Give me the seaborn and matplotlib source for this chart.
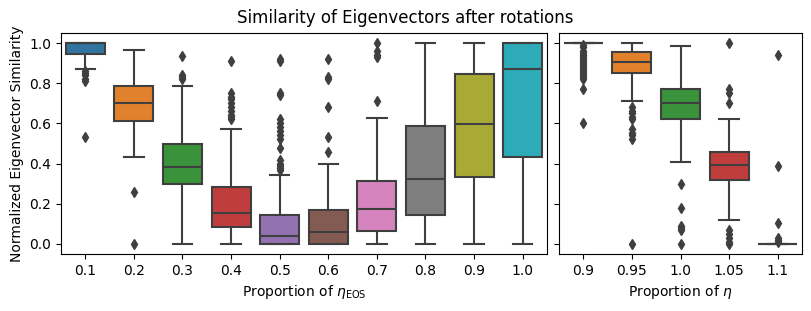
import numpy as np
import pandas as pd
import matplotlib
matplotlib.use("Agg")
from matplotlib import pyplot as plt
import seaborn as sns

# box statistics: whisker low, q1, median, q3, whisker high, fliers
eos_labels = ["0.1", "0.2", "0.3", "0.4", "0.5", "0.6", "0.7", "0.8", "0.9", "1.0"]
eos_whislo = [0.873, 0.435, 0.0, 0.0, 0.0, 0.0, 0.0, 0.0, 0.0, 0.0]
eos_q1 = [0.947, 0.614, 0.296, 0.086, 0.0, 0.0, 0.065, 0.146, 0.332, 0.435]
eos_median = [1.0, 0.704, 0.382, 0.153, 0.041, 0.058, 0.176, 0.324, 0.598, 0.873]
eos_q3 = [1.0, 0.787, 0.498, 0.282, 0.146, 0.169, 0.314, 0.585, 0.844, 1.0]
eos_whishi = [1.0, 0.963, 0.787, 0.571, 0.345, 0.40, 0.628, 1.0, 1.0, 1.0]
eos_fliers = [
    [0.86, 0.85, 0.84, 0.82, 0.81, 0.53],
    [0.26, 0.0],
    [0.937, 0.84, 0.83, 0.82],
    [0.913, 0.75, 0.73, 0.72, 0.70, 0.68, 0.66, 0.64, 0.63, 0.62],
    [0.92, 0.91, 0.75, 0.74, 0.62, 0.60, 0.58, 0.56, 0.54, 0.52, 0.48,
     0.42, 0.40, 0.39, 0.38, 0.37],
    [0.92, 0.83, 0.82, 0.68, 0.53, 0.46],
    [1.0, 0.96, 0.94, 0.93, 0.71],
    [], [], [],
]

eta_labels = ["0.9", "0.95", "1.0", "1.05", "1.1"]
eta_whislo = [1.0, 0.714, 0.41, 0.12, 0.0]
eta_q1 = [1.0, 0.849, 0.624, 0.317, 0.0]
eta_median = [1.0, 0.905, 0.704, 0.395, 0.0]
eta_q3 = [1.0, 0.953, 0.771, 0.458, 0.0]
eta_whishi = [1.0, 1.0, 0.983, 0.62, 0.0]
eta_fliers = [
    [0.99, 0.98, 0.96, 0.95, 0.94, 0.93, 0.92, 0.91, 0.90, 0.89, 0.88,
     0.87, 0.86, 0.85, 0.84, 0.83, 0.82, 0.77, 0.60],
    [0.68, 0.66, 0.65, 0.63, 0.62, 0.57, 0.55, 0.54, 0.52, 0.0],
    [0.30, 0.18, 0.09, 0.08, 0.07, 0.0],
    [1.0, 0.77, 0.75, 0.70, 0.07, 0.05, 0.03, 0.01, 0.0],
    [0.94, 0.39, 0.105, 0.03, 0.02, 0.01],
]


def _sample(lo, q1, med, q3, hi, fliers):
    # smallest sample whose quartiles / whiskers / fliers match the stats
    low = sorted(v for v in fliers if v < lo)
    high = sorted(v for v in fliers if v > hi)
    k = max(len(low), len(high)) + 1
    lower = low + [lo] + [q1] * (k - len(low) - 1)
    upper = [q3] * (k - len(high) - 1) + [hi] + high
    return lower + [q1] * k + [med] * k + [q3] + upper


def _frame(labels, lo, q1, med, q3, hi, fliers):
    rows = []
    for i, lab in enumerate(labels):
        for v in _sample(lo[i], q1[i], med[i], q3[i], hi[i], fliers[i]):
            rows.append((lab, v))
    return pd.DataFrame(rows, columns=["p", "sim"])


df_eos = _frame(eos_labels, eos_whislo, eos_q1, eos_median, eos_q3, eos_whishi, eos_fliers)
df_eta = _frame(eta_labels, eta_whislo, eta_q1, eta_median, eta_q3, eta_whishi, eta_fliers)

fig, (ax1, ax2) = plt.subplots(1, 2, figsize=(8.11, 3.11), sharey=True,
                               gridspec_kw={"width_ratios": [2, 1]})
fig.subplots_adjust(left=61 / 811, right=802 / 811, top=1 - 33 / 311,
                    bottom=1 - 254 / 311, wspace=0.033)

colors = sns.color_palette("tab10")
box_kw = dict(linecolor="#3f3f3f", linewidth=1.5, fliersize=5, legend=False,
              flierprops=dict(marker="d", markerfacecolor="#3f3f3f",
                              markeredgecolor="#3f3f3f"))

sns.boxplot(data=df_eos, x="p", y="sim", hue="p", order=eos_labels,
            hue_order=eos_labels, palette=colors[:10], ax=ax1, **box_kw)
sns.boxplot(data=df_eta, x="p", y="sim", hue="p", order=eta_labels,
            hue_order=eta_labels, palette=colors[:5], ax=ax2, **box_kw)

ax1.set_xlabel(r"Proportion of $\eta_{\mathrm{EOS}}$")
ax1.set_ylabel("Normalized Eigenvector Similarity")
ax2.set_xlabel(r"Proportion of $\eta$")
ax2.set_ylabel("")
fig.suptitle("Similarity of Eigenvectors after rotations", y=0.97)

fig.savefig("out.png", dpi=100)
